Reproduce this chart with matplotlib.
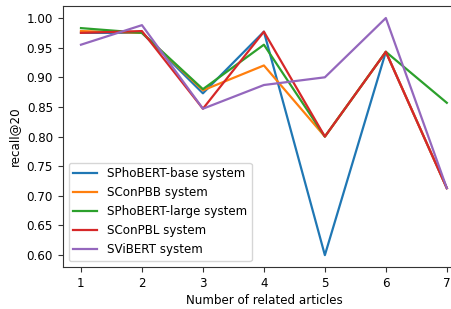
import matplotlib
matplotlib.use("Agg")
import matplotlib.pyplot as plt

x = [1, 2, 3, 4, 5, 6, 7]
labels = ["SPhoBERT-base system", "SConPBB system", "SPhoBERT-large system",
          "SConPBL system", "SViBERT system"]
sphobert_base = [0.975, 0.975, 0.873, 0.977, 0.600, 0.943, 0.713]
sconpbb = [0.978, 0.975, 0.878, 0.920, 0.800, 0.943, 0.713]
sphobert_large = [0.983, 0.975, 0.880, 0.955, 0.800, 0.943, 0.857]
sconpbl = [0.975, 0.978, 0.847, 0.977, 0.800, 0.943, 0.713]
svibert = [0.955, 0.988, 0.847, 0.887, 0.900, 1.000, 0.713]
series = [sphobert_base, sconpbb, sphobert_large, sconpbl, svibert]

plt.rcParams['font.size'] = 8.6
plt.rcParams['axes.edgecolor'] = '#333333'
plt.rcParams['xtick.color'] = '#333333'
plt.rcParams['ytick.color'] = '#333333'
plt.rcParams['xtick.labelcolor'] = 'black'
plt.rcParams['ytick.labelcolor'] = 'black'

fig = plt.figure(figsize=(4.52, 3.09), dpi=100)
ax = fig.add_axes([0.1387, 0.136, 0.8903, 0.844])
for s, lab in zip(series, labels):
    ax.plot(x, s, label=lab, linewidth=1.6)
ax.set_xlim(0.7, 7.3)
ax.set_ylim(0.58, 1.02)
ax.set_xticks(x)
ax.set_yticks([0.60, 0.65, 0.70, 0.75, 0.80, 0.85, 0.90, 0.95, 1.00])
ax.set_xlabel("Number of related articles", labelpad=3)
ax.set_ylabel("recall@20")
ax.legend(loc="lower left")
fig.savefig("out.png", dpi=100)
